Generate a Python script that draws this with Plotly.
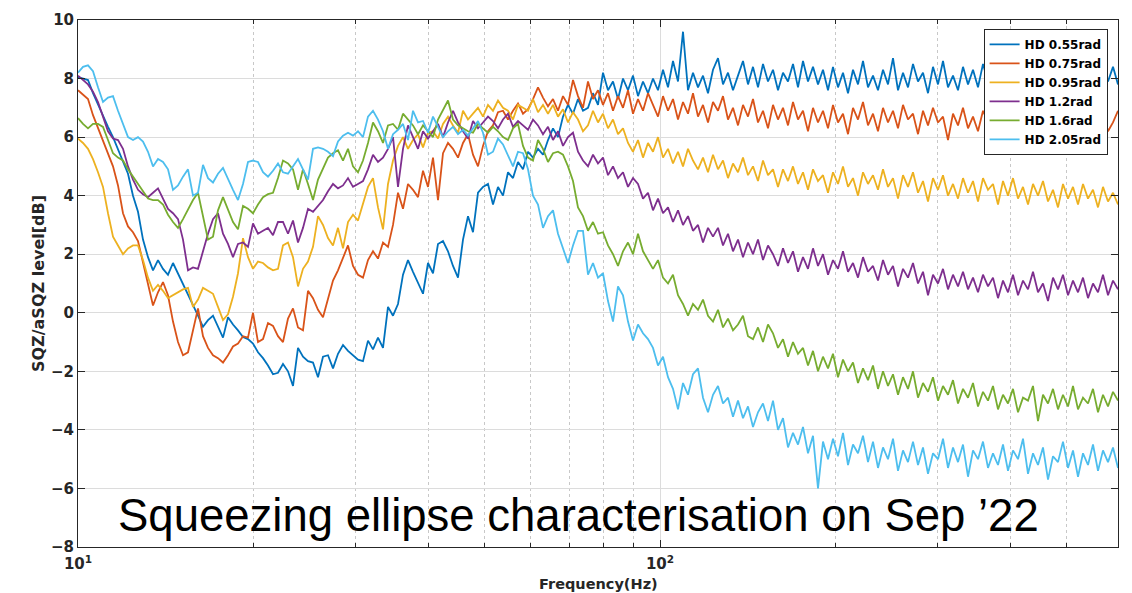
import numpy as np
import plotly.graph_objects as go

# Frequency sampling grid (Hz), log spaced across the plotted band
F_MIN_HZ = 10.0
F_MAX_HZ = 612.2
N_POINTS = 209
FREQ_HZ = np.geomspace(F_MIN_HZ, F_MAX_HZ, N_POINTS)

SERIES_NAMES = ["HD 0.55rad", "HD 0.75rad", "HD 0.95rad", "HD 1.2rad", "HD 1.6rad", "HD 2.05rad"]
COLORS = ["#0072BD", "#D95319", "#EDB120", "#7E2F8E", "#77AC30", "#4DBEEE"]

HD_055 = [
    8.05, 8.0, 7.95, 7.5, 7.1, 6.7, 6.35, 6.0, 5.6, 5.2,
    4.75, 4.0, 3.45, 2.5, 1.9, 1.45, 1.8, 1.5, 1.3, 1.7,
    1.35, 1.0, 0.6, 0.25, -0.1, -0.48, -0.25, -0.1, -0.5, -0.85,
    -0.15, -0.4, -0.6, -0.83, -0.9, -1.05, -1.35, -1.55, -1.8, -2.1,
    -2.05, -1.75, -2.0, -2.5, -1.2, -1.5, -1.65, -1.7, -2.2, -1.5,
    -1.45, -1.9, -1.4, -1.1, -1.3, -1.45, -1.6, -1.65, -0.95, -1.25,
    -0.85, -1.2, 0.2, -0.1, 0.3, 1.3, 1.8, 1.4, 1.0, 0.65,
    1.7, 1.35, 2.35, 2.45, 2.1, 1.6, 1.2, 2.5, 3.3, 2.75,
    4.1, 4.3, 4.4, 3.7, 4.3, 4.0, 4.8, 4.6, 5.15, 4.9,
    5.5, 5.3, 5.6, 5.4, 5.9, 6.3, 6.0, 6.7, 7.1, 6.8,
    7.3, 6.9, 7.0, 7.5, 7.1, 8.2, 7.6, 7.9, 7.3, 8.0,
    7.6, 8.1, 7.4, 7.9, 7.5, 8.0, 7.6, 8.3, 7.7, 8.6,
    7.9, 9.6, 7.6, 8.2, 7.7, 8.1, 7.5, 8.3, 8.7, 7.8,
    8.2, 7.6, 8.1, 8.6, 7.8, 8.4, 7.7, 8.5, 7.9, 8.3,
    7.6, 8.2, 7.9, 8.5, 7.7, 8.6, 7.9, 8.4, 7.8, 8.3,
    7.6, 8.4, 7.7, 8.2, 7.5, 8.3, 7.8, 8.6, 7.7, 8.1,
    7.6, 8.3, 7.8, 8.7, 7.6, 8.2, 7.7, 8.5, 7.9, 8.2,
    7.5, 8.4, 7.8, 8.6, 7.7, 8.1, 7.6, 8.4, 7.8, 8.3,
    7.7, 8.5, 7.9, 8.2, 7.6, 8.4, 7.8, 8.3, 7.7, 8.6,
    7.9, 8.2, 7.6, 8.3, 7.8, 8.5, 7.7, 8.2, 7.5, 8.4,
    7.8, 8.1, 7.6, 8.3, 7.7, 8.2, 7.9, 8.4, 7.8,
]

HD_075 = [
    7.6, 7.45, 7.3, 6.75, 6.3, 5.9, 5.45, 5.0, 4.35, 3.4,
    2.95, 2.75, 2.45, 1.7, 0.9, 0.25, 0.7, 1.05, 0.6, -0.3,
    -1.0, -1.45, -1.35, -0.6, 0.15, -0.8, -1.2, -1.45, -1.55, -1.7,
    -1.45, -1.15, -1.05, -0.8, -0.85, 0.0, -1.0, -0.9, -0.35, -0.45,
    -0.8, -1.0, -0.2, 0.15, -0.5, -0.6, 0.75, 0.5, 0.1, -0.15,
    0.45, 1.1, 1.45, 1.85, 2.3, 1.6, 1.3, 1.2, 1.8, 2.1,
    1.85, 2.4, 2.25, 3.0, 4.1, 3.55, 4.4, 4.2, 3.95, 4.85,
    4.3, 5.3, 3.85, 5.45, 5.8, 5.6, 5.3, 5.8, 6.1, 5.4,
    5.0, 5.7, 6.2, 6.4, 6.85, 6.9, 6.6, 6.9, 7.15, 6.8,
    6.95, 7.3, 7.7, 7.35, 7.05, 7.3, 6.9, 7.4, 7.1, 7.95,
    7.4, 7.0, 7.9, 7.3, 7.6, 7.1, 7.5, 6.9, 7.4, 7.0,
    7.6, 6.8, 7.3, 6.9, 7.5, 7.1, 6.7, 7.4, 6.9, 7.3,
    6.6, 7.2, 6.8, 7.5, 6.7, 7.1, 6.5, 7.2, 6.9, 7.4,
    6.6, 7.0, 6.4, 7.1, 6.7, 7.3, 6.5, 6.9, 6.3, 7.1,
    6.6, 7.0, 6.4, 7.2, 6.6, 6.9, 6.2, 7.0, 6.5, 6.9,
    6.3, 7.1, 6.5, 6.8, 6.1, 7.0, 6.6, 7.2, 6.4, 6.8,
    6.2, 7.0, 6.5, 6.9, 6.3, 7.1, 6.6, 6.8, 6.1, 6.9,
    6.4, 7.0, 6.5, 6.7, 5.9, 6.8, 6.4, 7.0, 6.3, 6.7,
    6.2, 6.9, 6.5, 6.8, 6.0, 6.7, 6.3, 6.9, 6.4, 6.6,
    6.1, 6.8, 6.3, 6.7, 6.2, 6.9, 6.4, 6.6, 6.0, 6.8,
    6.3, 6.7, 6.2, 6.6, 6.1, 6.8, 6.2, 6.5, 6.9,
]

HD_095 = [
    5.95, 5.8, 5.6, 5.25, 4.8, 4.3, 3.4, 2.6, 2.3, 2.0,
    2.2, 2.3, 2.3, 1.8, 1.2, 0.75, 0.95, 0.75, 0.5, 0.6,
    0.7, 0.8, 0.85, 0.2, 0.45, 0.85, 0.75, 0.65, 0.2, -0.25,
    -0.05, 0.55, 1.35, 2.55, 1.9, 1.5, 1.75, 1.7, 1.55, 1.45,
    1.5, 2.3, 2.4, 1.9, 0.9, 1.5, 1.75, 2.25, 3.3, 3.0,
    2.55, 2.3, 2.9, 2.2, 3.1, 3.35, 3.15, 3.7, 4.3, 4.6,
    3.6, 2.85, 4.4, 5.2, 5.7, 6.0, 5.6, 5.9, 6.1, 5.65,
    6.15, 6.2, 5.95, 6.45, 6.7, 6.4, 6.15, 6.9, 6.6, 6.8,
    7.0, 6.7, 7.1, 6.9, 7.25, 7.0, 6.9, 6.6, 7.1, 7.0,
    6.9, 7.3, 6.85, 7.1, 6.8, 7.1, 6.7, 6.95, 6.5, 6.85,
    6.6, 6.2, 6.4, 6.9, 6.5, 6.8, 6.3, 6.6, 6.1, 6.3,
    5.8, 5.5, 5.9, 5.3, 5.8, 5.5, 6.0, 5.3, 5.6, 5.1,
    5.5, 5.0, 5.6, 5.2, 4.9, 5.3, 4.8, 5.4, 4.9, 5.2,
    4.6, 5.1, 4.8, 5.3, 4.7, 5.0, 4.5, 5.2, 4.7, 4.9,
    4.3, 4.9, 4.5, 5.0, 4.4, 4.8, 4.2, 4.9, 4.5, 4.7,
    4.1, 4.8, 4.4, 5.0, 4.3, 4.6, 4.0, 4.8, 4.4, 4.7,
    4.2, 4.9, 4.3, 4.6, 3.9, 4.7, 4.3, 4.8, 4.1, 4.5,
    3.8, 4.6, 4.2, 4.7, 4.0, 4.4, 3.9, 4.6, 4.1, 4.5,
    3.8, 4.6, 4.2, 4.4, 3.7, 4.5, 4.0, 4.6, 3.9, 4.3,
    3.7, 4.4, 4.0, 4.5, 3.8, 4.2, 3.6, 4.4, 3.9, 4.3,
    3.7, 4.4, 3.9, 4.2, 3.6, 4.3, 3.8, 4.1, 3.7,
]

HD_12 = [
    8.1, 7.95, 7.8, 7.55, 7.2, 6.7, 6.2, 5.95, 5.9, 5.6,
    5.0, 4.55, 4.2, 4.05, 3.95, 4.1, 4.25, 3.9, 3.55, 3.4,
    3.2, 2.5, 1.45, 1.55, 1.5, 2.1, 2.7, 3.2, 3.4, 2.7,
    2.35, 1.9, 2.35, 2.4, 2.25, 3.05, 2.7, 2.8, 2.9, 2.65,
    3.1, 3.1, 2.7, 3.15, 2.4, 2.9, 3.55, 3.45, 3.65, 3.85,
    4.15, 4.4, 4.25, 4.35, 4.6, 4.3, 4.4, 4.5, 4.9, 5.4,
    5.15, 5.3, 5.6, 6.0, 4.3, 5.6, 6.4, 6.0, 5.6, 6.2,
    5.95, 6.2, 6.45, 6.0, 6.5, 6.9, 6.5, 6.2, 5.95, 6.55,
    6.3, 6.5, 6.7, 6.55, 6.3, 6.6, 6.8, 6.35, 6.55, 6.4,
    6.25, 6.6, 6.4, 6.1, 6.35, 5.9, 6.2, 5.7, 6.0, 6.15,
    5.5, 5.2, 5.0, 5.4, 5.1, 5.3, 4.7, 5.0, 4.6, 4.8,
    4.3, 4.6, 4.4, 3.9, 4.1, 3.5, 3.9, 3.4, 3.6, 3.1,
    3.5, 3.0, 3.3, 2.8, 3.0, 2.4, 2.9, 2.6, 2.9, 2.3,
    2.7, 2.1, 2.5, 1.9, 2.4, 2.0, 2.5, 1.8, 2.3, 2.0,
    1.6, 2.2, 1.7, 2.1, 1.4, 1.9, 1.5, 2.2, 1.6, 2.0,
    1.3, 1.8, 1.5, 2.1, 1.4, 1.7, 1.2, 1.9, 1.4, 1.6,
    1.1, 1.8, 1.3, 1.6, 0.9, 1.5, 1.2, 1.7, 1.0, 1.4,
    0.6, 1.3, 1.0, 1.5, 0.8, 1.3, 0.9, 1.4, 0.8, 1.2,
    0.7, 1.3, 0.9, 1.2, 0.5, 1.1, 0.7, 1.3, 0.6, 1.1,
    0.8, 1.4, 0.7, 1.0, 0.4, 1.2, 0.8, 1.3, 0.6, 1.1,
    0.7, 1.2, 0.5, 1.0, 0.7, 1.3, 0.6, 1.1, 0.8,
]

HD_16 = [
    6.65, 6.45, 6.3, 6.45, 6.45, 6.35, 5.9, 5.45, 5.3, 5.2,
    4.9, 4.65, 4.4, 4.15, 3.9, 3.85, 3.85, 3.7, 3.35, 3.1,
    2.9, 3.2, 3.55, 3.85, 4.1, 3.3, 2.5, 2.6, 3.5, 3.95,
    3.5, 3.1, 2.85, 3.65, 3.55, 3.4, 3.7, 3.95, 4.05, 4.1,
    4.6, 5.2, 5.1, 4.9, 4.2, 4.9, 4.4, 3.85, 4.55, 4.95,
    5.3, 5.45, 5.55, 5.2, 5.6, 5.0, 4.8, 5.2, 5.8, 6.5,
    6.2, 5.8, 6.4, 6.45, 6.25, 6.8, 6.6, 6.4, 6.1, 6.4,
    6.2, 6.0, 6.6, 6.9, 7.25, 6.6, 6.4, 6.3, 6.2, 6.15,
    6.45, 6.3, 6.15, 6.35, 6.2, 6.0, 5.9, 6.3, 6.45, 5.7,
    5.3, 5.2, 5.9, 5.6, 5.15, 5.45, 5.5, 5.4, 5.0, 4.5,
    3.6, 3.3, 2.8, 3.1, 2.7, 2.75, 2.3, 2.0, 1.6, 2.1,
    2.4, 2.0, 2.7, 2.1, 1.8, 1.5, 1.8, 1.2, 1.0, 1.3,
    0.6, 0.3, -0.1, 0.3, 0.1, 0.45, -0.1, -0.3, 0.1, -0.5,
    -0.2, -0.6, -0.4, -0.1, -0.8, -0.9, -0.5, -1.0, -0.4, -0.7,
    -1.2, -0.9, -1.5, -1.0, -1.4, -1.2, -1.8, -1.3, -2.0, -1.5,
    -1.9, -1.4, -2.2, -1.6, -2.0, -1.7, -2.4, -1.9, -2.3, -1.8,
    -2.6, -2.0, -2.5, -2.1, -2.8, -2.2, -2.6, -2.0, -2.9, -2.4,
    -2.7, -2.2, -3.0, -2.5, -2.8, -2.3, -3.1, -2.6, -2.9, -2.4,
    -3.2, -2.7, -3.0, -2.5, -3.3, -2.8, -3.1, -2.6, -3.4, -2.9,
    -3.0, -2.5, -3.7, -2.8, -3.1, -2.6, -3.3, -2.8, -3.2, -2.5,
    -3.3, -2.9, -3.1, -2.6, -3.4, -2.8, -3.2, -2.7, -3.0,
]

HD_205 = [
    8.2, 8.4, 8.45, 8.25, 7.7, 7.2, 7.35, 7.4, 6.9, 6.45,
    6.0, 5.9, 6.0, 5.85, 5.5, 5.0, 5.25, 5.15, 4.9, 4.2,
    4.35, 4.65, 4.9, 4.0, 4.1, 5.05, 4.6, 4.45, 4.75, 4.95,
    4.55, 4.2, 3.85, 4.4, 5.15, 5.2, 5.15, 4.8, 4.65, 4.85,
    5.1, 4.8, 4.75, 5.0, 5.25, 4.9, 4.55, 5.6, 5.65, 5.6,
    5.5, 5.35, 5.85, 6.05, 6.15, 6.05, 6.2, 6.0, 6.7, 6.9,
    6.6, 6.2, 5.6, 6.1, 6.25, 6.45, 5.9, 6.9, 6.5, 6.55,
    6.15, 6.7, 6.35, 6.0, 6.2, 6.35, 6.1, 6.25, 6.05, 6.3,
    6.55, 6.15, 5.4, 5.5, 5.95, 5.75, 5.4, 5.0, 5.5, 5.45,
    4.9, 4.0, 3.7, 2.9, 3.3, 3.5, 2.7, 2.2, 1.7, 2.3,
    2.8, 2.8, 1.3, 1.7, 1.2, 1.35, 0.4, -0.3, 0.9, 0.6,
    -0.3, -0.95, -0.4, -0.7, -0.9, -1.2, -1.8, -1.5, -2.2, -2.6,
    -3.3, -2.4, -2.8, -2.1, -1.9, -2.9, -3.4, -2.8, -2.5, -3.1,
    -2.9, -3.55, -3.0, -3.6, -3.2, -3.9, -3.4, -3.1, -3.7, -3.0,
    -4.0, -3.6, -4.6, -4.1, -4.5, -3.9, -4.8, -4.2, -6.0, -4.4,
    -5.0, -4.3, -4.9, -4.1, -5.2, -4.5, -4.8, -4.2, -5.1, -4.4,
    -5.3, -4.6, -5.0, -4.3, -5.4, -4.7, -5.1, -4.4, -5.2, -4.6,
    -5.5, -4.8, -5.0, -4.3, -5.3, -4.6, -5.1, -4.5, -5.6, -4.7,
    -5.0, -4.4, -5.3, -4.8, -5.2, -4.5, -5.4, -4.7, -5.0, -4.3,
    -5.5, -4.8, -5.2, -4.6, -5.7, -4.9, -5.1, -4.4, -5.3, -4.7,
    -5.6, -4.8, -5.2, -4.5, -5.4, -4.7, -5.1, -4.6, -5.3,
]

SERIES_VALUES = [HD_055, HD_075, HD_095, HD_12, HD_16, HD_205]

Y_TICKS = [-8, -6, -4, -2, 0, 2, 4, 6, 8, 10]
X_MAJOR_TICKS = [10, 100]
X_MAJOR_LABELS = ["10<sup>1</sup>", "10<sup>2</sup>"]
X_MINOR_TICKS = [20, 30, 40, 50, 60, 70, 80, 90, 200, 300, 400, 500]

AX_COLOR = "#262626"
TICK_FONT = dict(family="DejaVu Sans", size=15, color=AX_COLOR, weight="bold")

fig = go.Figure()
for name, vals, color in zip(SERIES_NAMES, SERIES_VALUES, COLORS):
    n = min(len(vals), N_POINTS)
    fig.add_trace(go.Scatter(
        x=FREQ_HZ[:n], y=vals[:n], mode="lines", name=name,
        line=dict(color=color, width=1.8),
    ))

fig.update_layout(
    width=1132, height=593,
    margin=dict(l=78, r=14, t=20, b=46),
    paper_bgcolor="white", plot_bgcolor="white",
    showlegend=True,
    legend=dict(
        x=0.99, y=0.983, xanchor="right", yanchor="top",
        bgcolor="white", bordercolor=AX_COLOR, borderwidth=1,
        font=dict(family="DejaVu Sans", size=12, color="black", weight="bold"),
        tracegroupgap=0,
    ),
    xaxis=dict(
        type="log",
        automargin=False,
        range=[np.log10(F_MIN_HZ), np.log10(F_MAX_HZ)],
        tickmode="array", tickvals=X_MAJOR_TICKS, ticktext=X_MAJOR_LABELS,
        ticks="inside", ticklen=7, tickcolor=AX_COLOR,
        ticklabelstandoff=3,
        showline=True, linecolor=AX_COLOR, linewidth=1, mirror="ticks",
        showgrid=True, gridcolor="#dcdcdc", gridwidth=1,
        zeroline=False,
        tickfont=TICK_FONT,
        minor=dict(
            tickmode="array", tickvals=X_MINOR_TICKS,
            ticks="inside", ticklen=4, tickcolor=AX_COLOR,
            showgrid=True, gridcolor="#c8c8c8", griddash="dot", gridwidth=1,
        ),
    ),
    yaxis=dict(
        automargin=False,
        range=[-8, 10],
        tickmode="array", tickvals=Y_TICKS,
        ticks="inside", ticklen=7, tickcolor=AX_COLOR,
        showline=True, linecolor=AX_COLOR, linewidth=1, mirror="ticks",
        showgrid=True, gridcolor="#dcdcdc", gridwidth=1,
        zeroline=False,
        tickfont=TICK_FONT,
        title=dict(text="SQZ/aSQZ level[dB]",
                   font=dict(family="DejaVu Sans", size=16, color=AX_COLOR, weight="bold"),
                   standoff=2),
    ),
)

# x-axis title, placed just below the tick labels
fig.add_annotation(
    text="Frequency(Hz)",
    xref="paper", yref="paper", x=0.5, y=-0.0693,
    xanchor="center", yanchor="middle", showarrow=False,
    font=dict(family="DejaVu Sans", size=14.5, color=AX_COLOR, weight="bold"),
)

fig.add_annotation(
    text="Squeezing ellipse characterisation on Sep \u201922",
    xref="paper", yref="paper", x=0.4817, y=0.059,
    xanchor="center", yanchor="middle", showarrow=False,
    font=dict(family="Liberation Sans", size=45.5, color="black"),
)

fig.write_html("out.html")
